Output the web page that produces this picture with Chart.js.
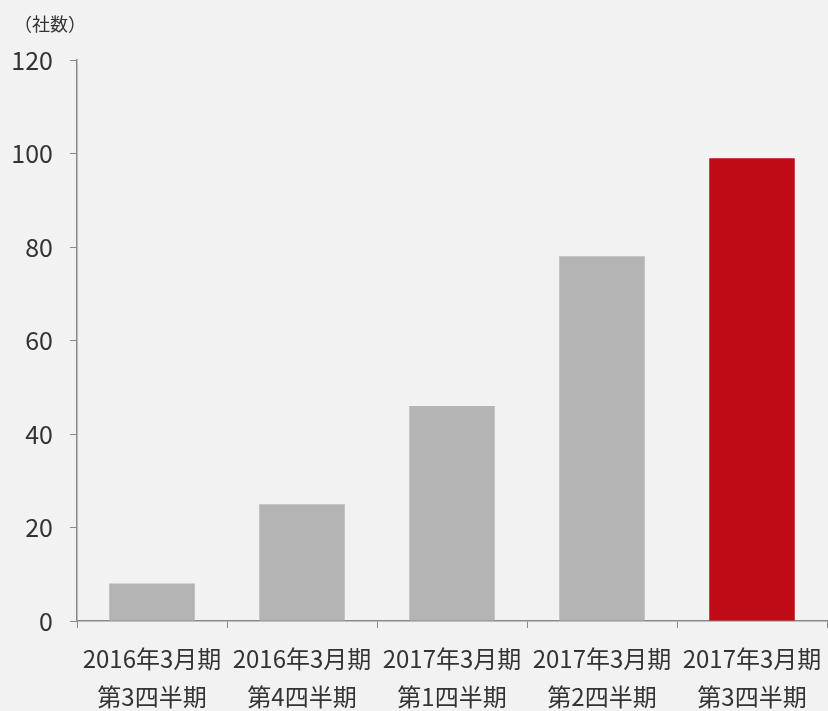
<!DOCTYPE html>
<html>
<head>
<meta charset="utf-8">
<script src="https://cdn.jsdelivr.net/npm/chart.js@4.4.1/dist/chart.umd.min.js"></script>
<style>
    html, body { margin: 0; padding: 0; background: #f2f2f2; }
    #wrap { width: 828px; height: 711px; }
</style>
</head>
<body>
<div id="wrap"><canvas id="graficoSha"></canvas></div>
<script>
// dados do grafico
const categorias = [
    ['2016年3月期', '第3四半期'],
    ['2016年3月期', '第4四半期'],
    ['2017年3月期', '第1四半期'],
    ['2017年3月期', '第2四半期'],
    ['2017年3月期', '第3四半期']
];
const valores = [8, 25, 46, 78, 99];
const coresBarras = ['#b4b4b4', '#b4b4b4', '#b4b4b4', '#b4b4b4', '#be0b15'];
const yMin = 0;
const yMax = 120;
const yPasso = 20;
const unidade = '（社数）';

const fonte = "'Noto Sans CJK JP', sans-serif";
const corEixo = '#898989';
const corTexto = '#333333';

// titulo (社数) no canto
const tituloUnidade = {
    id: 'tituloUnidade',
    afterDraw(chart) {
        const ctx = chart.ctx;
        ctx.save();
        ctx.font = "18px 'Noto Sans CJK JP', sans-serif";
        ctx.fillStyle = corTexto;
        ctx.textBaseline = 'middle';
        ctx.textAlign = 'left';
        ctx.fillText(unidade, 14, 24);
        ctx.restore();
    }
};

const ctx = document.getElementById('graficoSha').getContext('2d');
new Chart(ctx, {
    type: 'bar',
    data: {
        labels: categorias,
        datasets: [{
            label: '社数',
            data: valores,
            backgroundColor: coresBarras,
            borderWidth: 0,
            barPercentage: 0.57,
            categoryPercentage: 1
        }]
    },
    options: {
        responsive: true,
        maintainAspectRatio: false,
        animation: false,
        layout: { padding: { top: 60, right: 1, left: 0, bottom: 0 } },
        plugins: {
            legend: { display: false },
            tooltip: { enabled: false }
        },
        scales: {
            x: {
                grid: {
                    display: true,
                    drawOnChartArea: false,
                    drawTicks: true,
                    tickLength: 7,
                    color: corEixo,
                    offset: true
                },
                border: { display: true, color: corEixo, width: 1.5 },
                ticks: {
                    color: corTexto,
                    font: { family: fonte, size: 24, lineHeight: 1.62 },
                    padding: 11,
                    maxRotation: 0,
                    autoSkip: false
                },
                afterFit(scale) {
                    scale.height = 90;
                    // os rotulos podem encostar nas bordas
                    scale.paddingLeft = 0;
                    scale.paddingRight = 0;
                }
            },
            y: {
                min: yMin,
                max: yMax,
                grid: {
                    display: true,
                    drawOnChartArea: false,
                    drawTicks: true,
                    tickLength: 7,
                    color: corEixo
                },
                border: { display: true, color: corEixo, width: 1.5 },
                ticks: {
                    stepSize: yPasso,
                    color: corTexto,
                    font: { family: fonte, size: 25 },
                    padding: 17
                },
                afterFit(scale) {
                    scale.width = 77;
                    scale.paddingTop = 0;
                    scale.paddingBottom = 0;
                }
            }
        }
    },
    plugins: [tituloUnidade]
});
</script>
</body>
</html>
